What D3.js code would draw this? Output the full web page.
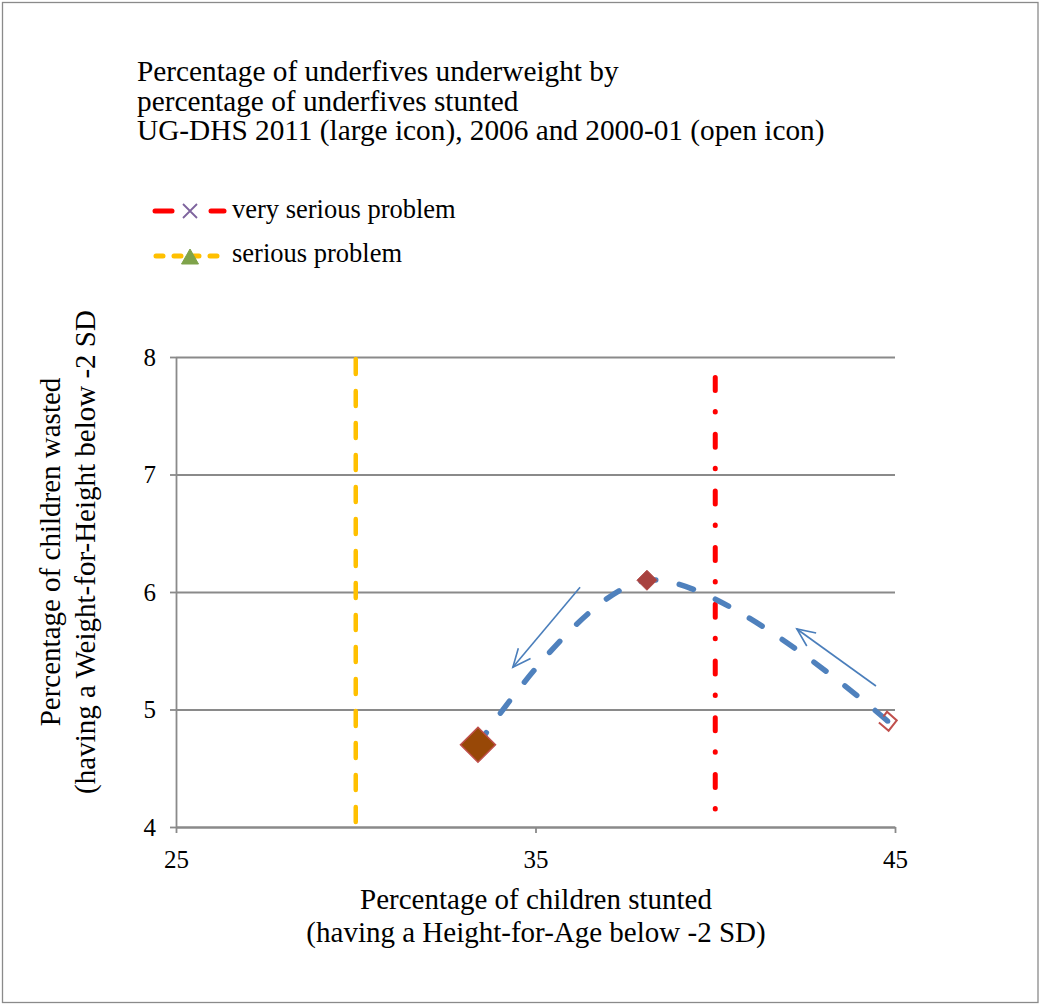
<!DOCTYPE html>
<html>
<head>
<meta charset="utf-8">
<script src="https://cdn.jsdelivr.net/npm/d3@7"></script>
<style>
  html, body { margin: 0; padding: 0; background: #fff; }
  svg { display: block; font-family: "Liberation Serif", "Times New Roman", serif; }
</style>
</head>
<body>
<svg id="chart" width="1040" height="1005"></svg>
<script>
// Survey rounds: stunting (%) vs wasting (%)
const surveys = ["UG-DHS 2011", "UG-DHS 2006", "UG-DHS 2000-01"];
const stunted = [33.4, 38.1, 44.8];
const wasted  = [4.7, 6.1, 4.9];
const markerKind = ["large", "filled", "open"];

// Threshold lines (stunting prevalence cut-offs)
const thresholdNames = ["very serious problem", "serious problem"];
const thresholdValues = [40, 30];

// Axis ticks
const xTicks = [25, 35, 45];
const yTicks = [4, 5, 6, 7, 8];

// Trend arrows (data coordinates: [stunted, wasted])
const arrowFrom = [[36.24, 6.04], [44.47, 5.20]];
const arrowTo   = [[34.37, 5.36], [42.27, 5.685]];

const titleLines = [
  "Percentage of underfives underweight by",
  "percentage of underfives stunted",
  "UG-DHS 2011 (large icon), 2006 and 2000-01 (open icon)"
];

const svg = d3.select("#chart");

// frame
svg.append("rect")
  .attr("x", 2.5).attr("y", 2.5).attr("width", 1035.5).attr("height", 1000)
  .attr("fill", "#fff").attr("stroke", "#8a8a8a").attr("stroke-width", 1.3);

const x = d3.scaleLinear().domain([25, 45]).range([176, 895]);
const y = d3.scaleLinear().domain([4, 8]).range([827, 357]);

// title
svg.append("g").selectAll("text").data(titleLines).join("text")
  .attr("x", 137).attr("y", (d, i) => 81 + i * 29.5)
  .attr("font-size", 29.3).attr("fill", "#000")
  .text(d => d);

// legend
const legend = svg.append("g");
legend.append("line").attr("x1", 155).attr("x2", 172).attr("y1", 211).attr("y2", 211)
  .attr("stroke", "#ff0000").attr("stroke-width", 5).attr("stroke-linecap", "round");
legend.append("line").attr("x1", 211).attr("x2", 224).attr("y1", 211).attr("y2", 211)
  .attr("stroke", "#ff0000").attr("stroke-width", 5).attr("stroke-linecap", "round");
legend.append("path")
  .attr("d", "M183,204 L197,218 M197,204 L183,218")
  .attr("stroke", "#7f649e").attr("stroke-width", 1.8).attr("fill", "none");
legend.append("line").attr("x1", 156).attr("x2", 224).attr("y1", 256).attr("y2", 256)
  .attr("stroke", "#ffc000").attr("stroke-width", 5).attr("stroke-linecap", "round")
  .attr("stroke-dasharray", "7 11");
legend.append("path")
  .attr("d", "M190,249 L198.5,264 L181.5,264 Z")
  .attr("fill", "#7fa34a").attr("stroke", "#7fa34a").attr("stroke-width", 1);
legend.selectAll("text.leg").data(thresholdNames).join("text")
  .attr("class", "leg")
  .attr("x", 232).attr("y", (d, i) => 218 + i * 44)
  .attr("font-size", 26.5).attr("fill", "#000")
  .text(d => d);

// gridlines
svg.append("g")
  .attr("transform", "translate(176,0)")
  .call(d3.axisLeft(y).tickValues(yTicks).tickSize(-(895 - 176)).tickFormat(""))
  .call(g => g.select(".domain").remove())
  .call(g => g.selectAll("line").attr("stroke", "#8a8a8a").attr("stroke-width", 1.8));

// y axis
svg.append("g")
  .attr("transform", "translate(176,0)")
  .call(d3.axisLeft(y).tickValues(yTicks).tickSize(6).tickSizeOuter(0).tickPadding(14).tickFormat(d3.format("d")))
  .call(g => g.select(".domain").attr("stroke", "#8a8a8a").attr("stroke-width", 1.8))
  .call(g => g.selectAll("line").attr("stroke", "#8a8a8a").attr("stroke-width", 1.8))
  .call(g => g.selectAll("text").attr("font-family", "Liberation Serif, serif").attr("font-size", 25).attr("fill", "#000"));

// x axis
svg.append("g")
  .attr("transform", "translate(0,827)")
  .call(d3.axisBottom(x).tickValues(xTicks).tickSize(6).tickSizeOuter(0).tickPadding(17).tickFormat(d3.format("d")))
  .call(g => g.select(".domain").attr("stroke", "#8a8a8a").attr("stroke-width", 1.8))
  .call(g => g.selectAll("line").attr("stroke", "#8a8a8a").attr("stroke-width", 1.8))
  .call(g => g.selectAll("text").attr("font-family", "Liberation Serif, serif").attr("font-size", 25).attr("fill", "#000"));

// axis titles
svg.append("g").selectAll("text")
  .data(["Percentage of children stunted", "(having a Height-for-Age below -2 SD)"])
  .join("text")
  .attr("x", 536).attr("y", (d, i) => 909 + i * 33)
  .attr("text-anchor", "middle").attr("font-size", 29).attr("fill", "#000")
  .text(d => d);

svg.append("g").selectAll("text")
  .data(["Percentage of children wasted", "(having a Weight-for-Height below -2 SD"])
  .join("text")
  .attr("transform", (d, i) => `translate(${60 + i * 35},552) rotate(-90)`)
  .attr("text-anchor", "middle").attr("font-size", 29).attr("fill", "#000")
  .text(d => d);

// threshold lines
const thrStyle = {
  "very serious problem": { color: "#ff0000", width: 5, dash: "13 21 0.5 22.2", offset: 36.2 },
  "serious problem": { color: "#ffc000", width: 4.5, dash: "15 17", offset: -2 }
};
svg.append("g").selectAll("line").data(thresholdNames).join("line")
  .attr("x1", (d, i) => x(thresholdValues[i])).attr("x2", (d, i) => x(thresholdValues[i]))
  .attr("y1", y(8)).attr("y2", y(4))
  .attr("stroke", d => thrStyle[d].color)
  .attr("stroke-width", d => thrStyle[d].width)
  .attr("stroke-linecap", "round")
  .attr("stroke-dasharray", d => thrStyle[d].dash)
  .attr("stroke-dashoffset", d => thrStyle[d].offset);

// smoothed trend through the survey rounds
const pts = stunted.map((s, i) => [s, wasted[i]]);
const line = d3.line().x(d => x(d[0])).y(d => y(d[1])).curve(d3.curveCatmullRom.alpha(0.5));
svg.append("path")
  .attr("d", line(pts))
  .attr("fill", "none").attr("stroke", "#4f81bd").attr("stroke-width", 5.5)
  .attr("stroke-linecap", "round").attr("stroke-dasharray", "15 24");

svg.append("g").selectAll("circle").data(pts).join("circle")
  .attr("cx", d => x(d[0])).attr("cy", d => y(d[1])).attr("r", 2.5)
  .attr("fill", "#4f81bd");

// arrows
const defs = svg.append("defs");
defs.append("marker")
  .attr("id", "openArrow").attr("markerUnits", "userSpaceOnUse")
  .attr("viewBox", "-20 -10 22 20").attr("refX", 0).attr("refY", 0)
  .attr("markerWidth", 22).attr("markerHeight", 20).attr("orient", "auto")
  .append("path").attr("d", "M-18,-8 L0,0 L-18,8")
  .attr("fill", "none").attr("stroke", "#4a7ebb").attr("stroke-width", 1.6);

svg.append("g").selectAll("line").data(arrowFrom).join("line")
  .attr("x1", d => x(d[0])).attr("y1", d => y(d[1]))
  .attr("x2", (d, i) => x(arrowTo[i][0])).attr("y2", (d, i) => y(arrowTo[i][1]))
  .attr("stroke", "#4a7ebb").attr("stroke-width", 1.6)
  .attr("marker-end", "url(#openArrow)");

// survey markers
const diamond = r => `M0,${-r} L${r},0 L0,${r} L${-r},0 Z`;
const mk = svg.append("g");
pts.forEach((p, i) => {
  const g = mk.append("g").attr("transform", `translate(${x(p[0])},${y(p[1])})`);
  if (markerKind[i] === "large") {
    g.append("path").attr("d", diamond(17.5))
      .attr("fill", "#984807").attr("stroke", "#c0504d").attr("stroke-width", 1.5);
  } else if (markerKind[i] === "filled") {
    g.append("path").attr("d", diamond(10))
      .attr("fill", "#a8423f").attr("stroke", "#b04a47").attr("stroke-width", 1);
  } else {
    // open icon
    g.append("path").attr("d", "M-4,-5 L0,-9.5 L9,0 L0,9.5 L-9,0.5")
      .attr("fill", "none").attr("stroke", "#c0504d").attr("stroke-width", 2)
      .attr("transform", "rotate(-5)");
  }
});
</script>
</body>
</html>
